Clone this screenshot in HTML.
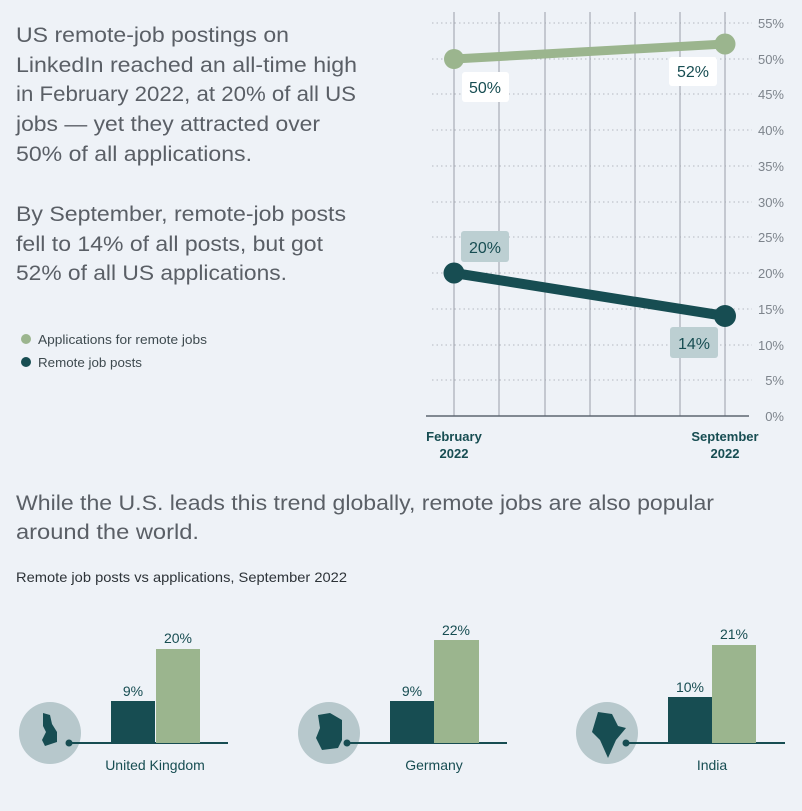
<!DOCTYPE html>
<html><head><meta charset="utf-8"><style>
html,body{margin:0;padding:0;background:#eef2f7;}
svg{display:block}
text{font-family:"Liberation Sans",sans-serif}
</style></head><body>
<svg width="802" height="811" viewBox="0 0 802 811" xmlns="http://www.w3.org/2000/svg">
<rect width="802" height="811" fill="#eef2f7"/>
<g fill="#5a5f66" font-size="21.5" font-weight="300">
<text x="16" y="42" textLength="273" lengthAdjust="spacingAndGlyphs">US remote-job postings on</text>
<text x="16" y="72" textLength="341" lengthAdjust="spacingAndGlyphs">LinkedIn reached an all-time high</text>
<text x="16" y="101" textLength="340" lengthAdjust="spacingAndGlyphs">in February 2022, at 20% of all US</text>
<text x="16" y="131" textLength="304" lengthAdjust="spacingAndGlyphs">jobs — yet they attracted over</text>
<text x="16" y="161" textLength="236" lengthAdjust="spacingAndGlyphs">50% of all applications.</text>
<text x="16" y="221" textLength="330" lengthAdjust="spacingAndGlyphs">By September, remote-job posts</text>
<text x="16" y="251" textLength="307" lengthAdjust="spacingAndGlyphs">fell to 14% of all posts, but got</text>
<text x="16" y="280" textLength="271" lengthAdjust="spacingAndGlyphs">52% of all US applications.</text>
</g>
<circle cx="26" cy="339" r="5" fill="#9bb58e"/>
<circle cx="26" cy="362" r="5" fill="#174d52"/>
<g fill="#3e4a4f" font-size="13">
<text x="38" y="344" textLength="169" lengthAdjust="spacingAndGlyphs">Applications for remote jobs</text>
<text x="38" y="367" textLength="104" lengthAdjust="spacingAndGlyphs">Remote job posts</text>
</g>
<g stroke="#b4b8c0" stroke-width="1" stroke-dasharray="1.5 3">
<line x1="432" x2="752" y1="23" y2="23"/><line x1="432" x2="752" y1="59" y2="59"/>
<line x1="432" x2="752" y1="94" y2="94"/><line x1="432" x2="752" y1="130" y2="130"/>
<line x1="432" x2="752" y1="166" y2="166"/><line x1="432" x2="752" y1="202" y2="202"/>
<line x1="432" x2="752" y1="237" y2="237"/><line x1="432" x2="752" y1="273" y2="273"/>
<line x1="432" x2="752" y1="309" y2="309"/><line x1="432" x2="752" y1="345" y2="345"/>
<line x1="432" x2="752" y1="380" y2="380"/>
</g>
<g stroke="#9a9ea8" stroke-width="1">
<line x1="454" x2="454" y1="12" y2="416"/><line x1="499" x2="499" y1="12" y2="416"/>
<line x1="545" x2="545" y1="12" y2="416"/><line x1="590" x2="590" y1="12" y2="416"/>
<line x1="635" x2="635" y1="12" y2="416"/><line x1="680" x2="680" y1="12" y2="416"/>
<line x1="725" x2="725" y1="12" y2="416"/>
</g>
<line x1="426" x2="749" y1="416" y2="416" stroke="#5d6670" stroke-width="1.5"/>
<g fill="#7d848c" font-size="13" text-anchor="end">
<text x="784" y="28">55%</text><text x="784" y="64">50%</text><text x="784" y="99">45%</text>
<text x="784" y="135">40%</text><text x="784" y="171">35%</text><text x="784" y="207">30%</text>
<text x="784" y="242">25%</text><text x="784" y="278">20%</text><text x="784" y="314">15%</text>
<text x="784" y="350">10%</text><text x="784" y="385">5%</text><text x="784" y="421">0%</text>
</g>
<g fill="#174d52" font-size="13" font-weight="bold" text-anchor="middle">
<text x="454" y="441">February</text><text x="454" y="458">2022</text>
<text x="725" y="441">September</text><text x="725" y="458">2022</text>
</g>
<line x1="454" y1="59" x2="725" y2="44" stroke="#9bb58e" stroke-width="9"/>
<circle cx="454" cy="59" r="10" fill="#9bb58e"/><circle cx="725" cy="44" r="10.5" fill="#9bb58e"/>
<line x1="454" y1="273" x2="725" y2="316" stroke="#174d52" stroke-width="10"/>
<circle cx="454" cy="273" r="10.5" fill="#174d52"/><circle cx="725" cy="316" r="11" fill="#174d52"/>
<rect x="462" y="72" width="47" height="30" rx="3" fill="#fff"/>
<rect x="669" y="57" width="48" height="29" rx="3" fill="#fff"/>
<rect x="461" y="231" width="48" height="31" rx="3" fill="#bccfd2"/>
<rect x="670" y="327" width="48" height="31" rx="3" fill="#bccfd2"/>
<g fill="#174d52" font-size="16" text-anchor="middle">
<text x="485" y="93">50%</text><text x="693" y="77">52%</text>
<text x="485" y="253">20%</text><text x="694" y="349">14%</text>
</g>
<g fill="#5a5f66" font-size="21.5" font-weight="300">
<text x="16" y="510" textLength="698" lengthAdjust="spacingAndGlyphs">While the U.S. leads this trend globally, remote jobs are also popular</text>
<text x="16" y="539" textLength="183" lengthAdjust="spacingAndGlyphs">around the world.</text>
</g>
<text x="16" y="582" fill="#2d3338" font-size="14" textLength="331" lengthAdjust="spacingAndGlyphs">Remote job posts vs applications, September 2022</text>
<circle cx="50" cy="733" r="31" fill="#b7c8cc"/>
<path d="M43 713 L50 715 L52 724 L57 732 L57 742 L45 746 L42 740 L46 732 L43 726 Z" fill="#174d52"/>
<line x1="69" x2="228" y1="743" y2="743" stroke="#174d52" stroke-width="2"/>
<circle cx="69" cy="743" r="3.5" fill="#174d52"/>
<rect x="111" y="701" width="44" height="42" fill="#174d52"/>
<rect x="156" y="649" width="44" height="94" fill="#9bb58e"/>
<circle cx="329" cy="733" r="31" fill="#b7c8cc"/>
<path d="M318 715 L330 713 L342 720 L342 740 L338 748 L322 750 L316 738 L320 728 Z" fill="#174d52"/>
<line x1="347" x2="507" y1="743" y2="743" stroke="#174d52" stroke-width="2"/>
<circle cx="347" cy="743" r="3.5" fill="#174d52"/>
<rect x="390" y="701" width="44" height="42" fill="#174d52"/>
<rect x="434" y="640" width="45" height="103" fill="#9bb58e"/>
<circle cx="607" cy="733" r="31" fill="#b7c8cc"/>
<path d="M598 712 L612 714 L618 726 L626 728 L616 740 L608 758 L600 740 L592 732 Z" fill="#174d52"/>
<line x1="626" x2="785" y1="743" y2="743" stroke="#174d52" stroke-width="2"/>
<circle cx="626" cy="743" r="3.5" fill="#174d52"/>
<rect x="668" y="697" width="44" height="46" fill="#174d52"/>
<rect x="712" y="645" width="44" height="98" fill="#9bb58e"/>
<g fill="#174d52" font-size="14" text-anchor="middle">
<text x="133" y="696">9%</text><text x="178" y="643">20%</text>
<text x="412" y="696">9%</text><text x="456" y="635">22%</text>
<text x="690" y="692">10%</text><text x="734" y="639">21%</text>
</g>
<g fill="#174d52" font-size="14" text-anchor="middle">
<text x="155" y="770">United Kingdom</text>
<text x="434" y="770">Germany</text>
<text x="712" y="770">India</text>
</g>
</svg>
</body></html>
